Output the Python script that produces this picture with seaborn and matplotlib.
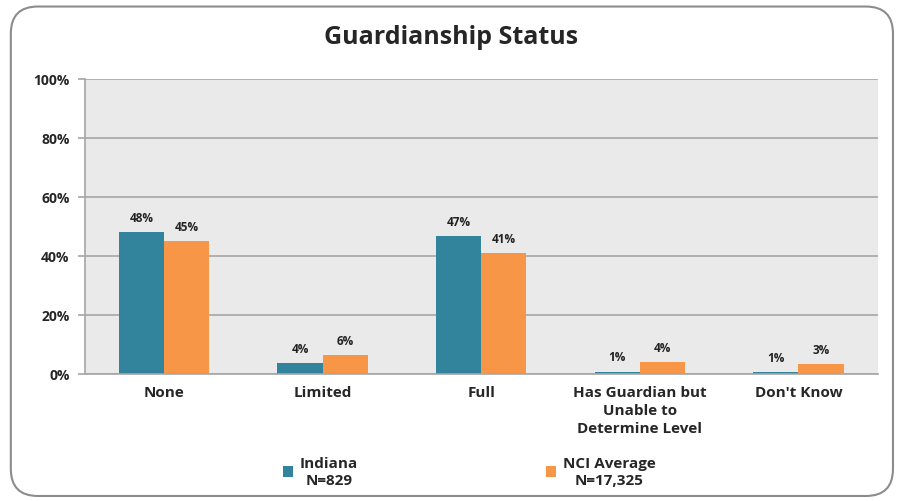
import pandas as pd
import numpy as np
import matplotlib
matplotlib.use("Agg")
import matplotlib.pyplot as plt
import seaborn as sns
from matplotlib.patches import FancyBboxPatch

# data
categories = ["None", "Limited", "Full", "Has Guardian but\nUnable to\nDetermine Level", "Don't Know"]
indiana = [48.0, 3.7, 46.7, 0.8, 0.6]
nci_avg = [45.1, 6.4, 41.0, 4.0, 3.4]
series_names = ["Indiana\nN=829", "NCI Average\nN=17,325"]
colors = ["#31849B", "#F79646"]
y_ticks = [0, 20, 40, 60, 80, 100]

df = pd.DataFrame({
    "Category": categories * 2,
    "Pct": indiana + nci_avg,
    "Group": [series_names[0]] * len(categories) + [series_names[1]] * len(categories),
})

sns.set_style("white")
plt.rcParams["font.family"] = ["Open Sans", "DejaVu Sans"]
plt.rcParams["font.weight"] = "bold"

fig = plt.figure(figsize=(9.02, 5.02), dpi=100)
ax = fig.add_axes([0.094, 0.253, 0.879, 0.588])

# rounded border round the whole chart
fig.patches.append(FancyBboxPatch((0.012, 0.01), 0.978, 0.975, boxstyle="round,pad=0,rounding_size=0.03",
                                  transform=fig.transFigure, facecolor="none", edgecolor="#8C8C8C",
                                  linewidth=1.5, mutation_aspect=902 / 502))

sns.barplot(data=df, x="Category", y="Pct", hue="Group", palette=colors, width=0.57,
            saturation=1, linewidth=0, ax=ax, legend=True)

ax.set_facecolor("#EAEAEA")
ax.set_ylim(0, 100)
ax.set_xlim(-0.5, len(categories) - 0.5)
ax.set_yticks(y_ticks)
ax.set_yticklabels([f"{t}%" for t in y_ticks], fontsize=10, fontweight="bold")
ax.yaxis.grid(True, color="#A6A6A6", linewidth=1.2)
ax.set_axisbelow(True)
ax.set_xlabel("")
ax.set_ylabel("")
ax.tick_params(axis="x", length=0, labelsize=11, pad=8)
for lbl in ax.get_xticklabels():
    lbl.set_fontweight("bold")
    lbl.set_linespacing(1.35)
ax.set_xticks(np.arange(-0.5, len(categories)), minor=True)
ax.tick_params(axis="x", which="minor", length=5, color="#A6A6A6", width=1.2)
ax.tick_params(axis="y", length=5, color="#A6A6A6", width=1.2, left=True, pad=6)

for s in ["top", "right"]:
    ax.spines[s].set_visible(False)
for s in ["left", "bottom"]:
    ax.spines[s].set_color("#A6A6A6")
    ax.spines[s].set_linewidth(1.2)

for cont in ax.containers:
    ax.bar_label(cont, labels=[f"{round(v)}%" for v in cont.datavalues], padding=6,
                 fontsize=8.5, fontweight="bold", color="#222222")

handles, labels = ax.get_legend_handles_labels()
ax.get_legend().remove()
leg = fig.legend(handles, labels, loc="lower center", bbox_to_anchor=(0.52, 0.0), ncol=2, frameon=False,
                 handlelength=0.7, handleheight=0.7, handletextpad=0.4, columnspacing=12.3,
                 prop={"weight": "bold", "size": 11})
for t in leg.get_texts():
    t.set_multialignment("center")
    t.set_linespacing(1.3)

fig.suptitle("Guardianship Status", y=0.95, fontsize=18, fontweight="bold")

fig.savefig("out.png", dpi=100)
